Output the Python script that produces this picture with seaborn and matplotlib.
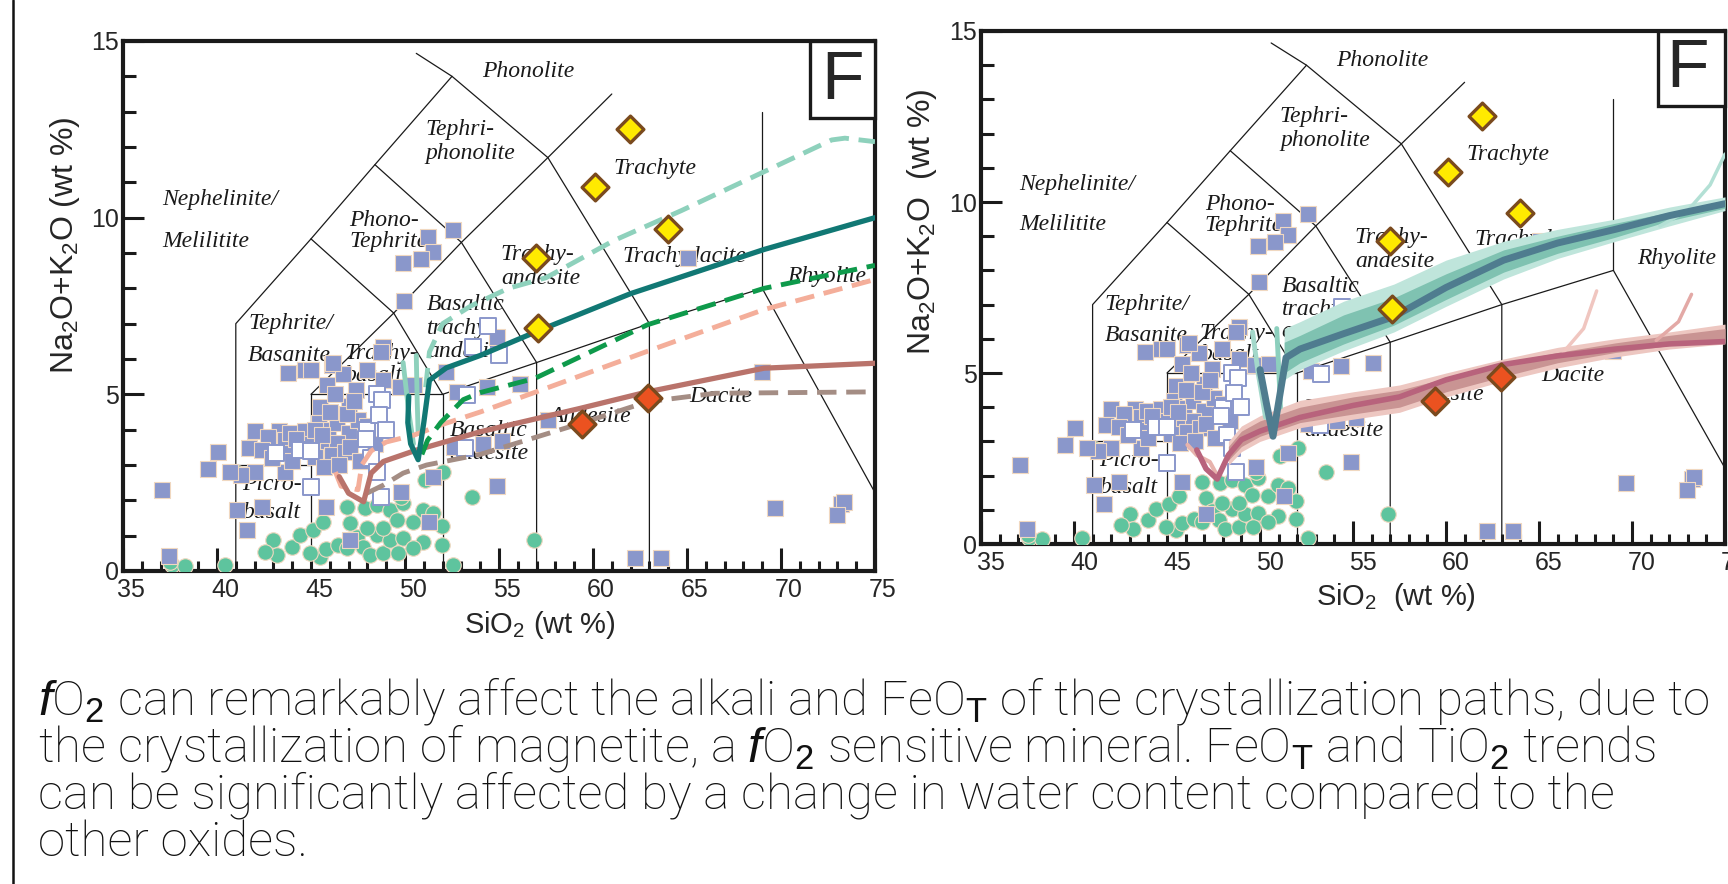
import numpy as np
import pandas as pd
import seaborn as sns
import matplotlib.pyplot as plt
from matplotlib import font_manager
from matplotlib.lines import Line2D
from matplotlib.patches import Rectangle
from matplotlib.transforms import ScaledTranslation
from matplotlib.ticker import MultipleLocator

# TAS field boundaries (SiO2, Na2O+K2O)
tas_lines = [
    [(41, 0), (41, 7), (45, 9.4), (48.4, 11.5), (52.5, 14), (50.6, 14.65)],
    [(41, 3), (45, 3)],
    [(45, 0), (45, 5), (52, 5), (52, 0)],
    [(45, 5), (49.4, 7.3), (52, 5)],
    [(45, 9.4), (49.4, 7.3), (53, 9.3), (48.4, 11.5)],
    [(52, 5), (57, 5.9), (63, 7), (69, 8), (77.3, 0)],
    [(57, 0), (57, 5.9), (53, 9.3), (57.6, 11.7), (52.5, 14)],
    [(63, 0), (63, 7), (57.6, 11.7), (61, 13.5)],
    [(69, 8), (69, 13)],
]

# field names: text, left x, centre y, gap between lines (wt %)
tas_labels = [
    ("Phonolite", 54.1, 14.14, 0), ("Tephri-\nphonolite", 51.07, 12.15, 0.55),
    ("Trachyte", 61.1, 11.39, 0), ("Nephelinite/\nMelilitite", 37.07, 9.92, 1.05),
    ("Phono-\nTephrite", 47.04, 9.63, 0.47), ("Trachy-\nandesite", 55.1, 8.62, 0.57),
    ("Trachydacite", 61.55, 8.91, 0), ("Rhyolite", 70.3, 8.34, 0),
    ("Basaltic\ntrachy-\nandesite", 51.16, 6.87, 0.53),
    ("Tephrite/\nBasanite", 41.65, 6.54, 0.78), ("Trachy-\nbasalt", 46.77, 5.85, 0.49),
    ("Picro-\nbasalt", 41.34, 2.05, 0.67), ("Basaltic\nandesite", 52.38, 3.64, 0.52),
    ("Andesite", 57.65, 4.38, 0), ("Dacite", 65.12, 4.93, 0),
]

# filled squares
sq_x = [52.57, 51.24, 51.5, 50.83, 49.88, 49.95, 54.9, 52.16, 56.1, 54.35, 52.75,
        65.04, 69.0, 57.6, 55.15, 54.15, 52.6, 54.9, 69.67, 73.2, 73.35, 72.97, 62.23, 63.6,
        48.85, 48.7, 43.8, 44.68, 45.0, 46.1, 46.7, 47.96, 48.85, 45.83, 47.4, 47.0, 45.5,
        49.73, 50.5, 46.19,
        42.0, 43.3, 42.7, 41.7, 42.4, 43.6, 43.9, 44.7, 45.4, 45.9, 46.4, 47.0, 47.5, 48.0,
        45.9, 46.4, 44.3, 43.6, 45.2, 46.1, 46.8, 47.1, 43.6, 42.0, 41.3, 40.7, 45.7, 46.5,
        47.6, 48.4, 44.9, 44.2, 46.0, 46.9, 45.2, 47.3, 46.3, 42.9, 44.0, 45.6,
        40.07, 39.5, 37.1, 41.05, 42.4, 41.6, 45.8, 49.8, 51.5, 51.3, 47.07, 37.45]
sq_y = [9.65, 9.44, 9.04, 8.83, 8.71, 7.65, 6.61, 5.62, 5.3, 5.2, 5.06,
        8.87, 5.64, 4.27, 3.67, 3.6, 3.5, 2.4, 1.78, 1.9, 1.95, 1.58, 0.37, 0.37,
        6.35, 6.2, 5.6, 5.69, 5.7, 5.83, 5.58, 5.69, 5.41, 5.27, 5.12, 4.67, 4.63,
        5.22, 5.27, 5.88,
        3.96, 3.96, 3.8, 3.47, 3.42, 3.7, 3.9, 3.96, 4.18, 3.99, 4.18, 3.9, 4.28, 4.1,
        3.61, 3.61, 3.42, 3.33, 3.23, 3.28, 3.38, 3.52, 2.81, 2.81, 2.72, 2.81, 2.95, 3.0,
        3.1, 3.6, 3.6, 3.75, 4.5, 4.45, 4.0, 4.8, 5.0, 3.2, 3.1, 3.85,
        3.38, 2.9, 2.3, 1.72, 1.82, 1.16, 1.8, 2.25, 2.66, 1.4, 0.88, 0.43]

# open squares
osq_x = [43.15, 44.4, 45.0, 48.0, 48.5, 48.8, 48.6, 47.9, 48.2, 48.5, 45.0, 48.7,
         54.43, 53.6, 54.98, 53.3, 53.2, 49.0]
osq_y = [3.33, 3.42, 3.41, 3.99, 5.0, 4.85, 4.42, 3.75, 3.2, 2.8, 2.38, 2.1,
         6.94, 6.33, 6.11, 4.98, 3.47, 4.0]

# green circles
gc_x = [41.13, 37.6, 38.3, 40.43, 43.0, 43.17, 42.55, 43.97, 44.4, 45.13, 45.65, 45.48,
        45.8, 46.45, 47.07, 46.9, 47.87, 48.5, 49.2, 49.56, 49.9, 48.5, 47.43, 47.78,
        46.9, 48.14, 48.85, 49.2, 49.9, 50.44, 50.97, 51.5, 51.95, 51.95, 50.97, 50.44,
        49.65, 52.57, 53.55, 51.06, 52.04, 49.8, 44.95, 47.96, 48.85, 56.88, 37.5]
gc_y = [2.78, 0.17, 0.15, 0.17, 0.88, 0.45, 0.55, 0.69, 1.02, 1.16, 1.4, 0.4,
        0.62, 0.74, 1.35, 1.82, 1.77, 1.87, 1.73, 1.44, 1.92, 1.02, 0.97, 0.69,
        0.64, 0.45, 0.5, 0.88, 0.92, 1.4, 1.73, 1.63, 1.26, 0.74, 0.82, 0.64,
        0.5, 0.17, 2.1, 2.58, 2.81, 2.1, 0.5, 1.21, 1.21, 0.89, 0.25]

# diamonds
yd_x = [61.95, 60.1, 64.0, 56.97, 57.1]
yd_y = [12.52, 10.88, 9.69, 8.87, 6.88]
rd_x = [59.43, 62.94]
rd_y = [4.17, 4.89]

# left panel model paths
lteal_x = [51.1, 51.3, 52.0, 53.5, 55.5, 57.5, 61.1, 64.7, 69.1, 72.7, 73.4, 75.0]
lteal_y = [5.2, 6.2, 7.0, 7.5, 8.0, 8.3, 9.35, 10.2, 11.3, 12.2, 12.25, 12.15]
lteal_s1_x = [49.9, 50.2, 50.45]
lteal_s1_y = [5.9, 4.5, 3.6]
lteal_s2_x = [50.6, 50.65, 50.7]
lteal_s2_y = [6.1, 4.8, 3.9]
dteal_x = [50.2, 50.15, 50.3, 50.7, 51.0, 51.3, 52.2, 54.0, 57.1, 62.0, 69.1, 75.0]
dteal_y = [4.95, 4.2, 3.6, 3.15, 4.2, 5.4, 5.75, 6.1, 6.8, 7.85, 9.1, 10.0]
green_x = [50.9, 51.2, 51.9, 53.1, 54.0, 56.9, 62.9, 69.1, 75.0]
green_y = [3.3, 3.7, 4.2, 4.85, 5.05, 5.45, 6.97, 8.0, 8.65]
salmon_x = [46.3, 46.6, 47.5, 47.7, 48.2, 49.0, 50.5, 52.0, 54.0, 57.5, 62.9, 69.1, 75.0]
salmon_y = [2.8, 2.4, 2.3, 3.0, 3.4, 3.65, 3.85, 4.15, 4.5, 5.17, 6.22, 7.4, 8.25]
brown_x = [46.5, 47.0, 47.8, 48.2, 48.85, 50.6, 54.0, 59.3, 62.9, 69.1, 75.0]
brown_y = [2.67, 2.2, 1.96, 2.77, 3.1, 3.42, 3.94, 4.6, 5.07, 5.74, 5.88]
taupe_x = [47.96, 48.85, 49.9, 51.15, 54.0, 59.3, 62.9, 66.5, 75.0]
taupe_y = [2.2, 2.43, 2.77, 3.0, 3.3, 4.17, 4.79, 5.03, 5.07]

# right panel model bundles
teal_x = [51.3, 52.15, 54.5, 57.2, 60.0, 63.1, 66.0, 69.1, 72.0, 75.0]
teal_lo = [4.8, 5.1, 5.65, 6.2, 6.95, 7.75, 8.35, 8.85, 9.3, 9.75]
teal_hi = [6.3, 6.5, 7.1, 7.6, 8.3, 8.85, 9.2, 9.5, 9.85, 10.15]
teal_in_lo = [5.0, 5.3, 5.85, 6.4, 7.15, 7.95, 8.5, 8.97, 9.45, 9.82]
teal_in_hi = [5.9, 6.1, 6.7, 7.2, 7.9, 8.6, 9.0, 9.38, 9.7, 10.05]
tcore_x = [50.0, 50.35, 50.7, 51.05, 51.4, 52.15, 54.5, 57.2, 60.0, 63.1, 66.0, 69.1, 72.0, 75.0]
tcore_y = [5.1, 4.1, 3.15, 4.3, 5.45, 5.7, 6.15, 6.65, 7.5, 8.3, 8.8, 9.2, 9.6, 9.95]
tstrand1_x = [49.6, 49.9, 50.3]
tstrand1_y = [6.2, 5.0, 3.7]
tstrand2_x = [50.9, 51.0, 51.1]
tstrand2_y = [6.3, 5.2, 4.0]
tbranch_x = [71.5, 73.0, 74.2, 75.0]
tbranch_y = [9.3, 9.75, 10.5, 11.4]

pink_x = [48.3, 49.0, 50.0, 52.15, 55.0, 57.5, 60.0, 63.1, 66.0, 69.1, 72.0, 75.0]
pink_lo = [2.3, 2.7, 3.0, 3.4, 3.65, 3.85, 4.3, 4.77, 5.15, 5.47, 5.7, 5.85]
pink_hi = [3.0, 3.45, 3.75, 4.2, 4.45, 4.65, 5.0, 5.41, 5.75, 6.0, 6.2, 6.43]
pink_in_lo = [2.45, 2.85, 3.15, 3.55, 3.8, 4.0, 4.45, 4.9, 5.3, 5.6, 5.8, 5.9]
pink_in_hi = [2.85, 3.3, 3.6, 4.0, 4.3, 4.5, 4.85, 5.3, 5.6, 5.88, 6.1, 6.3]
pcore_x = [46.6, 47.1, 47.7, 48.3, 49.0, 50.0, 52.15, 55.0, 57.5, 60.0, 63.1, 66.0, 69.1, 72.0, 75.0]
pcore_y = [2.75, 2.2, 1.9, 2.6, 3.05, 3.3, 3.7, 4.05, 4.3, 4.8, 5.25, 5.5, 5.7, 5.85, 5.92]
pstrand1_x = [66.3, 67.4, 68.1]
pstrand1_y = [5.6, 6.3, 7.4]
pstrand2_x = [71.3, 72.5, 73.2]
pstrand2_y = [5.95, 6.5, 7.3]
phook_x = [46.1, 46.6, 47.3, 47.7]
phook_y = [2.9, 2.6, 2.4, 2.0]

caption = [
    r"$\mathit{f}$O$_2$ can remarkably affect the alkali and FeO$_\mathrm{T}$ of the crystallization paths, due to",
    r"the crystallization of magnetite, a $\mathit{f}$O$_2$ sensitive mineral. FeO$_\mathrm{T}$ and TiO$_2$ trends",
    "can be significantly affected by a change in water content compared to the",
    "other oxides.",
]

sns.set_style("white")
plt.rcParams['font.family'] = ['Liberation Sans', 'DejaVu Sans']
plt.rcParams['mathtext.fontset'] = 'custom'
plt.rcParams['mathtext.rm'] = 'Liberation Sans'
plt.rcParams['mathtext.it'] = 'Liberation Sans:italic'
plt.rcParams['mathtext.bf'] = 'Liberation Sans:bold'

names = {f.name for f in font_manager.fontManager.ttflist}
cap_font = 'Roboto' if 'Roboto' in names else 'Liberation Sans'
f_font = 'Liberation Sans Narrow' if 'Liberation Sans Narrow' in names else 'Liberation Sans'

W, H = 1728, 884
fig = plt.figure(figsize=(W / 100, H / 100), dpi=100)
fig.patch.set_facecolor("white")

ax1 = fig.add_axes([123 / W, 1 - 571 / H, 752 / W, 530 / H])
ax2 = fig.add_axes([981 / W, 1 - 544 / H, 744 / W, 513 / H])

LABEL_PT = 17


def base_panel(ax, height_px, label_dx, f_pos, box_pos):
    ax.set_xlim(35, 75)
    ax.set_ylim(0, 15)
    for seg in tas_lines:
        xs, ys = zip(*seg)
        ax.plot(xs, ys, color="#1a1a1a", lw=0.9, zorder=1)
    ppu = height_px / 15
    line_px = 0.69 * LABEL_PT * 100 / 72
    for txt, x, y, gap in tas_labels:
        spacing = gap * ppu / line_px if gap else 1.0
        ax.text(x, y, txt, family="Liberation Serif", style="italic", fontsize=LABEL_PT,
                ha="left", va="center", linespacing=spacing, color="#1a1a1a", zorder=2)

    sns.scatterplot(x=gc_x, y=gc_y, marker="o", s=125, color="#5EC49E",
                    edgecolor="#F0D8C0", linewidth=0.8, ax=ax, zorder=3)
    sns.scatterplot(x=sq_x, y=sq_y, marker="s", s=140, color="#8A97CB",
                    edgecolor="#F0D8C0", linewidth=0.8, ax=ax, zorder=3)
    sns.scatterplot(x=osq_x, y=osq_y, marker="s", s=120, color="white",
                    edgecolor="#8A97CB", linewidth=1.4, ax=ax, zorder=3)

    for side in ax.spines.values():
        side.set_linewidth(3)
        side.set_color("#1a1a1a")
    ax.xaxis.set_major_locator(MultipleLocator(5))
    ax.xaxis.set_minor_locator(MultipleLocator(1))
    ax.yaxis.set_major_locator(MultipleLocator(5))
    ax.yaxis.set_minor_locator(MultipleLocator(1))
    ax.tick_params(axis="x", which="major", direction="in", length=16.5, width=2.2,
                   labelsize=18, pad=5, color="#1a1a1a", bottom=True)
    ax.tick_params(axis="x", which="minor", direction="in", length=7, width=2.2,
                   color="#1a1a1a", bottom=True)
    ax.tick_params(axis="y", which="major", direction="in", length=15, width=2.2,
                   labelsize=18, pad=3, color="#1a1a1a", left=True)
    ax.tick_params(axis="y", which="minor", direction="in", length=9, width=2.2,
                   color="#1a1a1a", left=True)
    shift = ScaledTranslation(label_dx, 0, fig.dpi_scale_trans)
    for lab in ax.get_xticklabels():
        lab.set_transform(lab.get_transform() + shift)
    ax.set_xlabel("")
    ax.set_ylabel("")

    ax.add_patch(Rectangle((box_pos[0], box_pos[1]), 1 - box_pos[0], 1 - box_pos[1],
                           transform=ax.transAxes, facecolor="white", edgecolor="#1a1a1a",
                           lw=2.4, zorder=8, clip_on=False))
    ax.text(f_pos[0], f_pos[1], "F", transform=ax.transAxes, family=f_font,
            fontsize=50, ha="center", va="center", zorder=9)


def diamonds(ax):
    sns.scatterplot(x=yd_x, y=yd_y, marker="D", s=185, color="#FFEA00",
                    edgecolor="#7A4A1E", linewidth=2.4, ax=ax, zorder=7)
    sns.scatterplot(x=rd_x, y=rd_y, marker="D", s=185, color="#EB5220",
                    edgecolor="#7A4A1E", linewidth=2.4, ax=ax, zorder=7)


def path(ax, x, y, color, lw, ls="-", z=5, alpha=1.0):
    sns.lineplot(x=x, y=y, sort=False, estimator=None, color=color, lw=lw,
                 linestyle=ls, alpha=alpha, ax=ax, zorder=z)


# left panel
base_panel(ax1, 530, 0.08, (0.957, 0.925), (0.9136, 0.855))
dash = (0, (4, 2))
path(ax1, lteal_s1_x, lteal_s1_y, "#8ED1BC", 3.5)
path(ax1, lteal_s2_x, lteal_s2_y, "#8ED1BC", 3.5)
path(ax1, lteal_x, lteal_y, "#8ED1BC", 3.5, dash)
path(ax1, taupe_x, taupe_y, "#A48D84", 3.5, dash)
path(ax1, salmon_x, salmon_y, "#F4AE9A", 3.5, dash)
path(ax1, brown_x, brown_y, "#B9736B", 3.8)
path(ax1, green_x, green_y, "#0E9A4B", 3.5, dash)
path(ax1, dteal_x, dteal_y, "#117874", 3.8)
diamonds(ax1)

# right panel
base_panel(ax2, 513, 0.10, (0.950, 0.926), (0.910, 0.854))
ax2.fill_between(pink_x, pink_lo, pink_hi, color="#EDC7C1", lw=0, zorder=5)
ax2.fill_between(pink_x, pink_in_lo, pink_in_hi, color="#C99493", lw=0, zorder=5)
path(ax2, phook_x, phook_y, "#E7B3AC", 3)
path(ax2, pstrand1_x, pstrand1_y, "#F0C6C0", 2.5)
path(ax2, pstrand2_x, pstrand2_y, "#E3A9A6", 2.5)
path(ax2, pcore_x, pcore_y, "#B8637C", 4)
ax2.fill_between(teal_x, teal_lo, teal_hi, color="#BFE5DB", lw=0, zorder=5)
ax2.fill_between(teal_x, teal_in_lo, teal_in_hi, color="#7FC2B1", lw=0, zorder=5)
path(ax2, tstrand1_x, tstrand1_y, "#A3D8CA", 3.5)
path(ax2, tstrand2_x, tstrand2_y, "#8CCFBD", 3.5)
path(ax2, tbranch_x, tbranch_y, "#B3E0D5", 2.5)
path(ax2, tcore_x, tcore_y, "#4F7C8F", 5)
diamonds(ax2)

# axis titles
fig.text(540 / W, 1 - 625 / H, "SiO$_2$ (wt %)", fontsize=21, ha="center", va="center")
fig.text(1396 / W, 1 - 597 / H, "SiO$_2$  (wt %)", fontsize=21, ha="center", va="center")
fig.text(65 / W, 1 - 245 / H, "Na$_2$O+K$_2$O (wt %)", fontsize=23, rotation=90,
         ha="center", va="center")
fig.text(922 / W, 1 - 222 / H, "Na$_2$O+K$_2$O  (wt %)", fontsize=23, rotation=90,
         ha="center", va="center")

# caption
for i, line in enumerate(caption):
    fig.text(38 / W, 1 - (701 + 47.3 * i) / H, line, family=cap_font, weight="light",
             fontsize=35.5, ha="left", va="center", color="#111111")

fig.add_artist(Line2D([13 / W, 13 / W], [0, 1], color="#111111", lw=1.8))

fig.savefig("out.png", dpi=100)
